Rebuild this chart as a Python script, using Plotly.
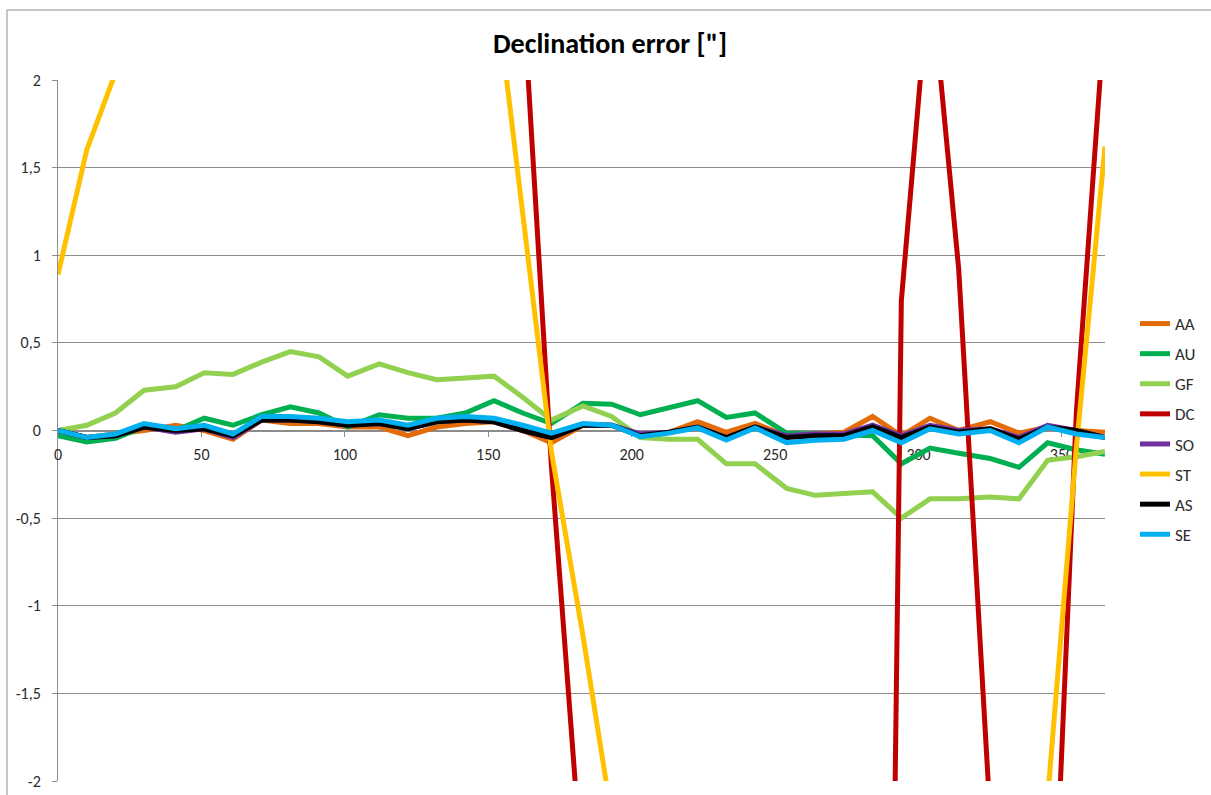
import plotly.graph_objects as go

# Day of year for each sample
days = [0, 10, 20, 30, 41, 51, 61, 71, 81, 91, 101, 112, 122, 132, 142, 152, 162, 172,
        183, 193, 203, 213, 223, 233, 243, 254, 264, 274, 284, 294, 304, 314, 325, 335,
        345, 355, 365]

# Declination error per model, arcseconds
AA = [0, -0.04, -0.02, 0.0, 0.03, 0.0, -0.05, 0.06, 0.04, 0.04, 0.02, 0.02, -0.03, 0.02,
      0.04, 0.05, 0.0, -0.07, 0.03, 0.03, -0.03, -0.01, 0.05, -0.01, 0.04, -0.03, -0.02,
      -0.01, 0.08, -0.03, 0.07, 0.0, 0.05, -0.015, 0.02, 0.0, -0.01]
AU = [-0.03, -0.065, -0.045, 0.02, 0.0, 0.07, 0.03, 0.09, 0.135, 0.1, 0.02, 0.09, 0.07,
      0.07, 0.1, 0.17, 0.1, 0.04, 0.155, 0.15, 0.09, 0.13, 0.17, 0.075, 0.1, -0.015, -0.02,
      -0.02, -0.03, -0.19, -0.1, -0.13, -0.16, -0.21, -0.07, -0.11, -0.135]
GF = [0.0, 0.03, 0.1, 0.23, 0.25, 0.33, 0.32, 0.39, 0.45, 0.42, 0.31, 0.38, 0.33, 0.29,
      0.30, 0.31, 0.19, 0.06, 0.14, 0.08, -0.04, -0.05, -0.05, -0.19, -0.19, -0.33, -0.37,
      -0.36, -0.35, -0.50, -0.39, -0.39, -0.38, -0.39, -0.17, -0.15, -0.12]
DC = [6.1, 8.4, 9.9, 10.6, 10.2, 9.0, 7.5, 6.3, 5.8, 6.0, 6.7, 7.4, 7.8, 7.5, 6.4, 4.8,
      2.53, -0.2, -2.93, -5.6, -8.2, -10.1, -11.3, -12.0, -12.4, -12.8, -13.1, -12.9,
      -12.0, 0.74, 2.65, 0.92, -2.21, -4.8, -3.7, 0.1, 2.4]
SO = [0, -0.04, -0.03, 0.02, -0.01, 0.01, -0.04, 0.06, 0.06, 0.05, 0.03, 0.04, 0.01, 0.05,
      0.06, 0.05, 0.0, -0.04, 0.03, 0.03, -0.02, -0.01, 0.02, -0.04, 0.02, -0.03, -0.02,
      -0.02, 0.03, -0.03, 0.03, 0.0, 0.01, -0.04, 0.03, 0.0, -0.04]
ST = [0.89, 1.60, 2.04, 2.5, 2.9, 3.3, 3.6, 3.9, 4.1, 4.2, 4.2, 4.1, 3.9, 3.6, 3.2, 2.6,
      1.24, -0.12, -1.17, -2.2, -3.0, -3.6, -4.1, -4.5, -4.8, -5.0, -5.1, -5.0, -4.8, -4.5,
      -4.2, -3.8, -3.3, -2.7, -2.1, -0.1, 1.62]
AS = [0, -0.04, -0.03, 0.02, 0.0, 0.01, -0.03, 0.06, 0.06, 0.05, 0.03, 0.04, 0.01, 0.05,
      0.06, 0.05, 0.0, -0.04, 0.03, 0.03, -0.03, -0.01, 0.02, -0.04, 0.02, -0.04, -0.03,
      -0.03, 0.02, -0.04, 0.02, -0.01, 0.01, -0.05, 0.02, 0.0, -0.04]
SE = [0, -0.04, -0.02, 0.04, 0.01, 0.03, -0.02, 0.08, 0.08, 0.07, 0.05, 0.06, 0.03, 0.07,
      0.08, 0.07, 0.03, -0.015, 0.04, 0.03, -0.035, -0.015, 0.015, -0.055, 0.015, -0.07,
      -0.055, -0.05, 0.0, -0.07, 0.01, -0.02, 0.0, -0.07, 0.02, -0.02, -0.04]

series_names = ["AA", "AU", "GF", "DC", "SO", "ST", "AS", "SE"]
series_values = [AA, AU, GF, DC, SO, ST, AS, SE]
series_colors = ["#E36C09", "#00B050", "#92D050", "#C00000", "#7030A0", "#FFC000",
                 "#000000", "#00B0F0"]

y_ticks = [-2, -1.5, -1, -0.5, 0, 0.5, 1, 1.5, 2]
y_tick_text = ["-2", "-1,5", "-1", "-0,5", "0", "0,5", "1", "1,5", "2"]
x_ticks = [0, 50, 100, 150, 200, 250, 300, 350]

FONT = "Carlito, Calibri, Lato, sans-serif"
GRID = "#8C8C8C"
TEXT = "#2B2B2B"

fig = go.Figure()
for name, vals, col in zip(series_names, series_values, series_colors):
    fig.add_trace(go.Scatter(
        x=days, y=vals, name=name, mode="lines", legendgroup=name,
        line=dict(color=col, width=5),
    ))

W, H = 1211, 795
L, R, T, B = 58, 106, 80, 14
pw, ph = W - L - R, H - T - B

def px_to_paper_x(px):
    return (px - L) / pw

def px_to_paper_y(py):
    return (H - B - py) / ph

fig.update_layout(
    width=W, height=H,
    margin=dict(l=L, r=R, t=T, b=B, autoexpand=False),
    paper_bgcolor="white", plot_bgcolor="white",
    separators=",.",
    font=dict(family=FONT, size=14, color=TEXT),
    title=dict(text='<b>Declination error ["]</b>', x=610 / W, xref="container",
               xanchor="center", y=1 - 43 / H, yref="container", yanchor="middle",
               font=dict(family=FONT, size=28, color="#000000")),
    showlegend=True,
    legend=dict(x=px_to_paper_x(1135), xanchor="left", y=px_to_paper_y(306),
                yanchor="top", tracegroupgap=5, traceorder="grouped",
                font=dict(family=FONT, size=17, color=TEXT),
                itemwidth=30, bgcolor="rgba(0,0,0,0)"),
    xaxis=dict(range=[0, 365], tickvals=x_ticks, showgrid=False, zeroline=False,
               showline=True, linecolor=GRID, linewidth=1, ticks="outside", ticklen=5,
               tickcolor=GRID, anchor="free", position=0.5, layer="below traces",
               automargin=False, ticklabelstandoff=4,
               tickfont=dict(family=FONT, size=16, color=TEXT)),
    yaxis=dict(range=[-2, 2], tickvals=y_ticks, ticktext=y_tick_text, showgrid=True,
               gridcolor=GRID, gridwidth=1, zeroline=False, showline=True,
               linecolor=GRID, linewidth=1, ticks="outside", ticklen=5, tickcolor=GRID,
               ticklabelstandoff=8, layer="below traces", automargin=False,
               tickfont=dict(family=FONT, size=16, color=TEXT)),
)

# chart area frame
fig.add_shape(type="rect", xref="paper", yref="paper",
              x0=px_to_paper_x(7), x1=px_to_paper_x(1230),
              y0=px_to_paper_y(810), y1=px_to_paper_y(10),
              line=dict(color="#8C8C8C", width=1), layer="below")

fig.write_html("out.html")
